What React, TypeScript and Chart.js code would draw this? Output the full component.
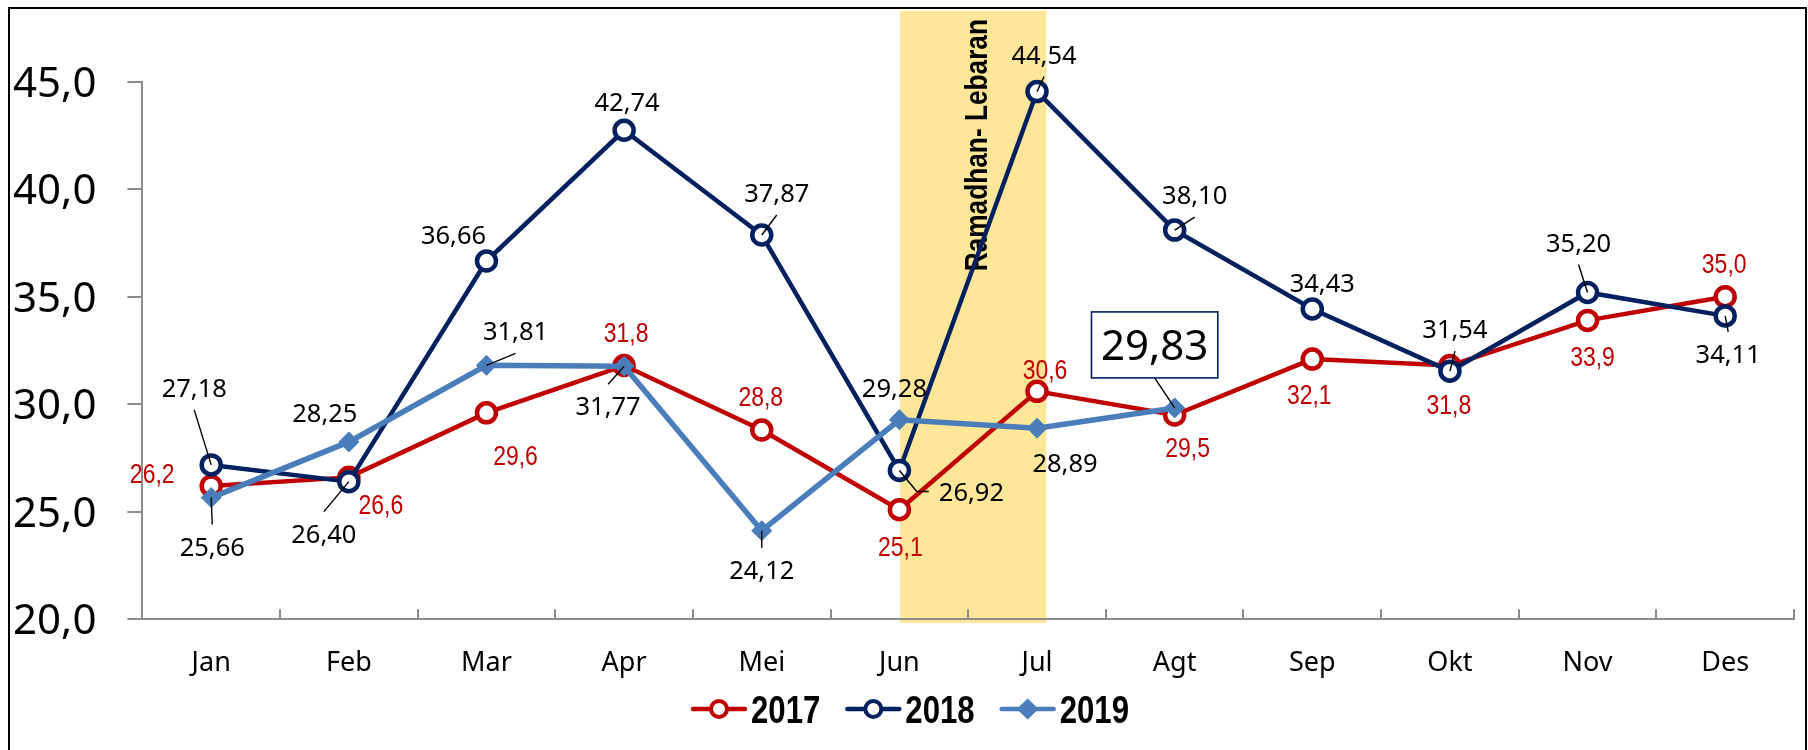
import React, { useEffect, useRef } from 'react';
import { Chart, registerables } from 'chart.js';

Chart.register(...registerables);

// ---------------- data ----------------
const months = ['Jan', 'Feb', 'Mar', 'Apr', 'Mei', 'Jun', 'Jul', 'Agt', 'Sep', 'Okt', 'Nov', 'Des'];
const seriesNames = ['2017', '2018', '2019'];
const values2017 = [26.2, 26.6, 29.6, 31.8, 28.8, 25.1, 30.6, 29.5, 32.1, 31.8, 33.9, 35.0];
const values2018 = [27.18, 26.4, 36.66, 42.74, 37.87, 26.92, 44.54, 38.1, 34.43, 31.54, 35.2, 34.11];
const values2019 = [25.66, 28.25, 31.81, 31.77, 24.12, 29.28, 28.89, 29.83];
const yTickValues = [20, 25, 30, 35, 40, 45];
const bandText = 'Ramadhan- Lebaran';
const bandFromMonth = 5; // Jun
const bandToMonth = 6; // Jul

// ---------------- label placement (styling, pixel offsets from each point) ----------------
const offsets2017: number[][] = [[-59, -13], [32, 27], [29, 42], [2, -34], [-1, -34], [1, 36], [8, -22], [13, 32], [-3, 35], [-1, 38], [5, 36], [-1, -34]];
const offsets2018: number[][] = [[-17, -77], [-25, 52], [-33, -26], [3, -28], [15, -42], [72, 21], [7, -37], [20, -35], [10, -26], [5, -42], [-9, -50], [3, 38]];
const offsets2019: number[][] = [[1, 49], [-24, -29], [29, -34], [-16, 40], [0, 39], [-5, -32], [28, 35], [-20, -63]];
// leader lines: 0 none, 1 straight, 2 with side stub
const leaders2017 = [0, 0, 0, 0, 0, 0, 0, 0, 0, 0, 0, 0];
const leaders2018 = [1, 1, 0, 0, 1, 2, 1, 1, 0, 1, 1, 1];
const leaders2019 = [1, 0, 1, 1, 1, 0, 0, 1];
const boxedIndex2019 = 7;

const RED = '#C00000';
const NAVY = '#002060';
const STEEL = '#4A7EBB';
const AXIS = '#8C8C8C';
const BAND = '#FFE699';
const SANS = '"Noto Sans", "Open Sans", sans-serif';
const ARIAL = '"Liberation Sans", Arial, sans-serif';
const NARROW_SCALE = 0.82;

const fmt = (v: number, d: number) => v.toFixed(d).replace('.', ',');

const labelSets = [
  { values: values2017, decimals: 1, offsets: offsets2017, leaders: leaders2017, color: RED, family: ARIAL, size: 28, narrow: true, boxed: -1 },
  { values: values2018, decimals: 2, offsets: offsets2018, leaders: leaders2018, color: '#000', family: SANS, size: 25.5, narrow: false, boxed: -1 },
  { values: values2019, decimals: 2, offsets: offsets2019, leaders: leaders2019, color: '#000', family: SANS, size: 25.5, narrow: false, boxed: boxedIndex2019 },
];
const legendMarkers = ['circle', 'circle', 'diamond'];

function drawMarker(ctx: CanvasRenderingContext2D, kind: string, color: string, x: number, y: number) {
  if (kind === 'circle') {
    ctx.beginPath();
    ctx.arc(x, y, 8, 0, Math.PI * 2);
    ctx.fillStyle = '#fff';
    ctx.fill();
    ctx.strokeStyle = color;
    ctx.lineWidth = 4;
    ctx.stroke();
  } else {
    ctx.beginPath();
    ctx.moveTo(x - 11, y);
    ctx.lineTo(x, y - 10.5);
    ctx.lineTo(x + 11, y);
    ctx.lineTo(x, y + 10.5);
    ctx.closePath();
    ctx.fillStyle = color;
    ctx.fill();
  }
}

const decoPlugin = {
  id: 'deco',
  beforeDraw(chart: any) {
    const { ctx, width, height } = chart;
    const xs = chart.scales.x;
    const ys = chart.scales.y;
    ctx.save();
    ctx.fillStyle = '#fff';
    ctx.fillRect(0, 0, width, height);
    const x0 = xs.getPixelForValue(bandFromMonth);
    const x1 = xs.getPixelForValue(bandToMonth);
    const left = x0 + (x1 - x0) * 0.005;
    const right = x1 + (x1 - x0) * 0.068;
    const top = ys.getPixelForValue(48.3);
    const bottom = ys.getPixelForValue(19.83);
    ctx.fillStyle = BAND;
    ctx.fillRect(left, top, right - left, bottom - top);
    ctx.translate(x0 + (x1 - x0) * 0.633, ys.getPixelForValue(42.05));
    ctx.rotate(-Math.PI / 2);
    ctx.scale(NARROW_SCALE, 1);
    ctx.font = `bold 32px ${ARIAL}`;
    ctx.fillStyle = '#000';
    ctx.textAlign = 'center';
    ctx.textBaseline = 'alphabetic';
    ctx.fillText(bandText, 0, 0);
    ctx.restore();
  },
  afterDatasetsDraw(chart: any) {
    const ctx = chart.ctx;
    ctx.save();
    labelSets.forEach((s, di) => {
      const meta = chart.getDatasetMeta(di);
      s.values.forEach((v, i) => {
        const el = meta.data[i];
        if (!el) return;
        const px = el.x;
        const py = el.y;
        const cx = px + s.offsets[i][0];
        const cy = py + s.offsets[i][1];
        const text = fmt(v, s.decimals);
        const isBox = i === s.boxed;
        const size = isBox ? 42 : s.size;
        const hs = s.narrow ? NARROW_SCALE : 1;
        ctx.font = `${size}px ${s.family}`;
        const tw = ctx.measureText(text).width * hs;
        const boxH = 66;
        const lead = s.leaders[i];
        ctx.strokeStyle = '#000';
        ctx.lineWidth = 1.4;
        if (lead === 1) {
          const gap = isBox ? boxH / 2 : 22;
          const sy = cy + (py > cy ? 1 : -1) * gap;
          ctx.beginPath();
          ctx.moveTo(cx, sy);
          ctx.lineTo(px, py);
          ctx.stroke();
        } else if (lead === 2) {
          const sx = cx - tw / 2 - 10;
          ctx.beginPath();
          ctx.moveTo(sx, cy);
          ctx.lineTo(sx - 12, cy);
          ctx.lineTo(px, py);
          ctx.stroke();
        }
        if (isBox) {
          const bw = tw + 19;
          ctx.fillStyle = '#fff';
          ctx.fillRect(cx - bw / 2, cy - boxH / 2, bw, boxH);
          ctx.strokeStyle = NAVY;
          ctx.lineWidth = 1.6;
          ctx.strokeRect(cx - bw / 2, cy - boxH / 2, bw, boxH);
        }
        ctx.save();
        ctx.fillStyle = s.color;
        ctx.textAlign = 'center';
        ctx.textBaseline = 'alphabetic';
        ctx.translate(cx, cy + size * 0.715 / 2);
        ctx.scale(hs, 1);
        ctx.fillText(text, 0, 0);
        ctx.restore();
      });
    });
    ctx.restore();
  },
  afterDraw(chart: any) {
    const ctx = chart.ctx;
    ctx.save();
    // legend (line + marker + narrow bold label)
    const ds = chart.data.datasets;
    ctx.font = `bold 38px ${ARIAL}`;
    const lineLen = 56;
    const gapText = 4;
    const gapItem = 25;
    const widths = ds.map((d: any) => ctx.measureText(d.label).width * NARROW_SCALE);
    const total = widths.reduce((a: number, w: number) => a + lineLen + gapText + w, 0) + gapItem * (ds.length - 1);
    let x = chart.width / 2 + 6 - total / 2;
    const ly = 709;
    ds.forEach((d: any, i: number) => {
      const color = d.borderColor;
      ctx.strokeStyle = color;
      ctx.lineWidth = 4.5;
      ctx.lineCap = 'round';
      ctx.beginPath();
      ctx.moveTo(x + 2, ly);
      ctx.lineTo(x + lineLen - 2, ly);
      ctx.stroke();
      drawMarker(ctx, legendMarkers[i], color, x + lineLen / 2, ly);
      ctx.save();
      ctx.fillStyle = '#000';
      ctx.font = `bold 38px ${ARIAL}`;
      ctx.textAlign = 'left';
      ctx.textBaseline = 'alphabetic';
      ctx.translate(x + lineLen + gapText, ly + 14);
      ctx.scale(NARROW_SCALE, 1);
      ctx.fillText(d.label, 0, 0);
      ctx.restore();
      x += lineLen + gapText + widths[i] + gapItem;
    });
    // outer frame
    ctx.strokeStyle = '#000';
    ctx.lineWidth = 2;
    ctx.strokeRect(9, 8, 1797, 800);
    ctx.restore();
  },
};

export default function App() {
  const ref = useRef<HTMLCanvasElement>(null);
  useEffect(() => {
    if (!ref.current) return;
    const chart = new Chart(ref.current, {
      type: 'line',
      data: {
        labels: months,
        datasets: [
          {
            label: seriesNames[0], data: values2017, borderColor: RED, backgroundColor: RED, borderWidth: 4.5,
            pointStyle: 'circle', pointRadius: 9.5, pointBorderWidth: 4.5, pointBackgroundColor: '#fff', pointBorderColor: RED,
            tension: 0, clip: false as any, order: 3,
          },
          {
            label: seriesNames[1], data: values2018, borderColor: NAVY, backgroundColor: NAVY, borderWidth: 4.5,
            pointStyle: 'circle', pointRadius: 9.5, pointBorderWidth: 4.5, pointBackgroundColor: '#fff', pointBorderColor: NAVY,
            tension: 0, clip: false as any, order: 2,
          },
          {
            label: seriesNames[2], data: values2019, borderColor: STEEL, backgroundColor: STEEL, borderWidth: 5.5,
            pointStyle: 'rectRot', pointRadius: 10, pointBorderWidth: 1, pointBackgroundColor: STEEL, pointBorderColor: STEEL,
            tension: 0, clip: false as any, order: 1,
          },
        ],
      },
      options: {
        responsive: false,
        animation: false,
        events: [],
        layout: { padding: { left: 1, right: 3, top: 81.7, bottom: 68 } },
        plugins: {
          tooltip: { enabled: false },
          title: { display: false },
          legend: { display: false },
        },
        scales: {
          x: {
            type: 'category',
            offset: true,
            grid: { offset: true, drawOnChartArea: false, drawTicks: true, tickLength: -10, color: AXIS, lineWidth: 2 },
            border: { color: AXIS, width: 2 },
            ticks: { font: { family: SANS, size: 27 }, color: '#000', padding: 37.8, maxRotation: 0, autoSkip: false },
            afterFit: (s: any) => { s.height = 62.7; s.paddingLeft = 0; s.paddingRight = 0; },
          },
          y: {
            min: yTickValues[0],
            max: yTickValues[yTickValues.length - 1],
            afterBuildTicks: (s: any) => { s.ticks = yTickValues.map((v) => ({ value: v })); },
            grid: { drawOnChartArea: false, drawTicks: true, tickLength: 15, color: AXIS, lineWidth: 2 },
            border: { color: AXIS, width: 2 },
            ticks: { font: { family: SANS, size: 42 }, color: '#000', padding: 31, labelOffset: 3, callback: (v: any) => fmt(Number(v), 1) },
            afterFit: (s: any) => { s.width = 141.4; s.paddingTop = 0; s.paddingBottom = 0; },
          },
        },
      } as any,
      plugins: [decoPlugin],
    });
    return () => chart.destroy();
  }, []);
  return (
    <div style={{ position: 'fixed', left: 0, top: 0, width: 1808, height: 750, background: '#fff' }}>
      <canvas ref={ref} width={1808} height={750} style={{ display: 'block' }} />
    </div>
  );
}
